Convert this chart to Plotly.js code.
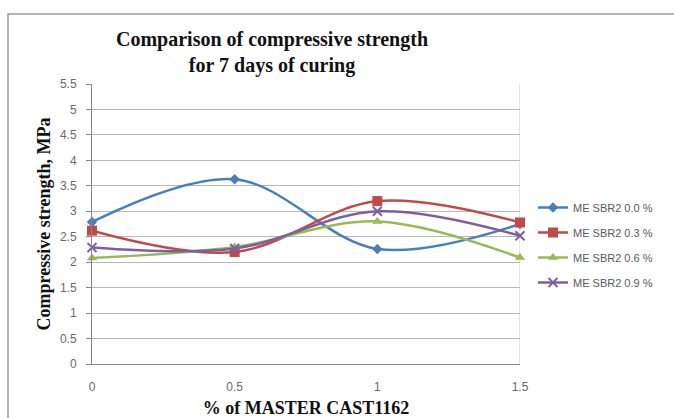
<!DOCTYPE html>
<html><head><meta charset="utf-8">
<script src="https://cdn.plot.ly/plotly-3.0.1.min.js"></script>
<style>html,body{margin:0;padding:0;background:#fff;}#chart{width:674px;height:418px;}</style>
</head><body><div id="chart"></div>
<script>
const xValues = [0, 0.5, 1, 1.5];
const seriesNames = ["ME SBR2 0.0 %", "ME SBR2 0.3 %", "ME SBR2 0.6 %", "ME SBR2 0.9 %"];
const sbr00 = [2.79, 3.63, 2.26, 2.75];
const sbr03 = [2.62, 2.2, 3.2, 2.78];
const sbr06 = [2.08, 2.3, 2.8, 2.09];
const sbr09 = [2.29, 2.27, 3.0, 2.52];
const yTicks = [0, 0.5, 1, 1.5, 2, 2.5, 3, 3.5, 4, 4.5, 5, 5.5];
const yTickText = ["0", "0.5", "1", "1.5", "2", "2.5", "3", "3.5", "4", "4.5", "5", "5.5"];
const xTicks = [0, 0.5, 1, 1.5];
const xTickText = ["0", "0.5", "1", "1.5"];

const seriesData = [sbr00, sbr03, sbr06, sbr09];
const colors = ["#4A7EBB", "#BE4B48", "#98B954", "#7D60A0"];
const symbols = ["diamond", "square", "triangle-up", "x-thin-open"];
const sizes = [8, 10, 9, 9];

const traces = seriesData.map((ys, i) => ({
  x: xValues, y: ys, name: seriesNames[i], type: "scatter", mode: "lines+markers",
  legendgroup: "g" + i,
  line: {color: colors[i], width: 2.5, shape: "spline", smoothing: 1},
  marker: {symbol: symbols[i], size: sizes[i], color: colors[i], line: {color: colors[i], width: i === 3 ? 2 : 0}},
  cliponaxis: false
}));

const L = 92, R = 520, T = 84, B = 364, W = 674, H = 418;
const pw = R - L, ph = B - T;
const px = v => (v - L) / pw;
const py = v => (B - v) / ph;

const layout = {
  width: W, height: H,
  margin: {l: L, r: W - R, t: T, b: H - B, pad: 0},
  paper_bgcolor: "#ffffff", plot_bgcolor: "#ffffff",
  showlegend: true,
  title: {
    text: "<b>Comparison of compressive strength<br>for 7 days of curing</b>",
    font: {family: "Liberation Serif", size: 20, color: "#111"},
    xref: "container", x: 272 / W, xanchor: "center",
    yref: "container", y: 1 - 46 / H, yanchor: "top"
  },
  xaxis: {
    range: [0, 1.5], tickvals: xTicks, ticktext: xTickText,
    showgrid: false, zeroline: false, showline: true, linecolor: "#868686", linewidth: 1,
    ticks: "", ticklabelstandoff: 12,
    tickfont: {family: "Liberation Sans", size: 12, color: "#6a6a6a"},
    title: {text: "<b>% of MASTER CAST1162</b>", font: {family: "Liberation Serif", size: 18, color: "#111"}, standoff: 11}
  },
  yaxis: {
    range: [0, 5.5], tickvals: yTicks, ticktext: yTickText,
    showgrid: true, gridcolor: "#b8b8b8", gridwidth: 1,
    zeroline: false, showline: true, linecolor: "#868686", linewidth: 1,
    ticks: "outside", ticklen: 5, tickcolor: "#868686", ticklabelstandoff: 7,
    tickfont: {family: "Liberation Sans", size: 12, color: "#6a6a6a"},
    title: {text: "<b>Compressive strength, MPa</b>", font: {family: "Liberation Serif", size: 18, color: "#111"}, standoff: 4}
  },
  legend: {
    x: px(533), xanchor: "left", y: py(193), yanchor: "top",
    font: {family: "Liberation Sans", size: 11, color: "#595959"},
    bgcolor: "rgba(0,0,0,0)", tracegroupgap: 6, traceorder: "grouped"
  },
  shapes: [
    {type: "line", xref: "x", yref: "paper", x0: 1.5, x1: 1.5, y0: 0, y1: 1, line: {color: "#c8c8c8", width: 1}, layer: "below"},
    {type: "rect", xref: "paper", yref: "paper", x0: px(8), x1: px(690), y0: py(430), y1: py(14), line: {color: "#9a9a9a", width: 1.5}, fillcolor: "rgba(0,0,0,0)"}
  ]
};

Plotly.newPlot("chart", traces, layout, {staticPlot: true, displayModeBar: false});
</script></body></html>
